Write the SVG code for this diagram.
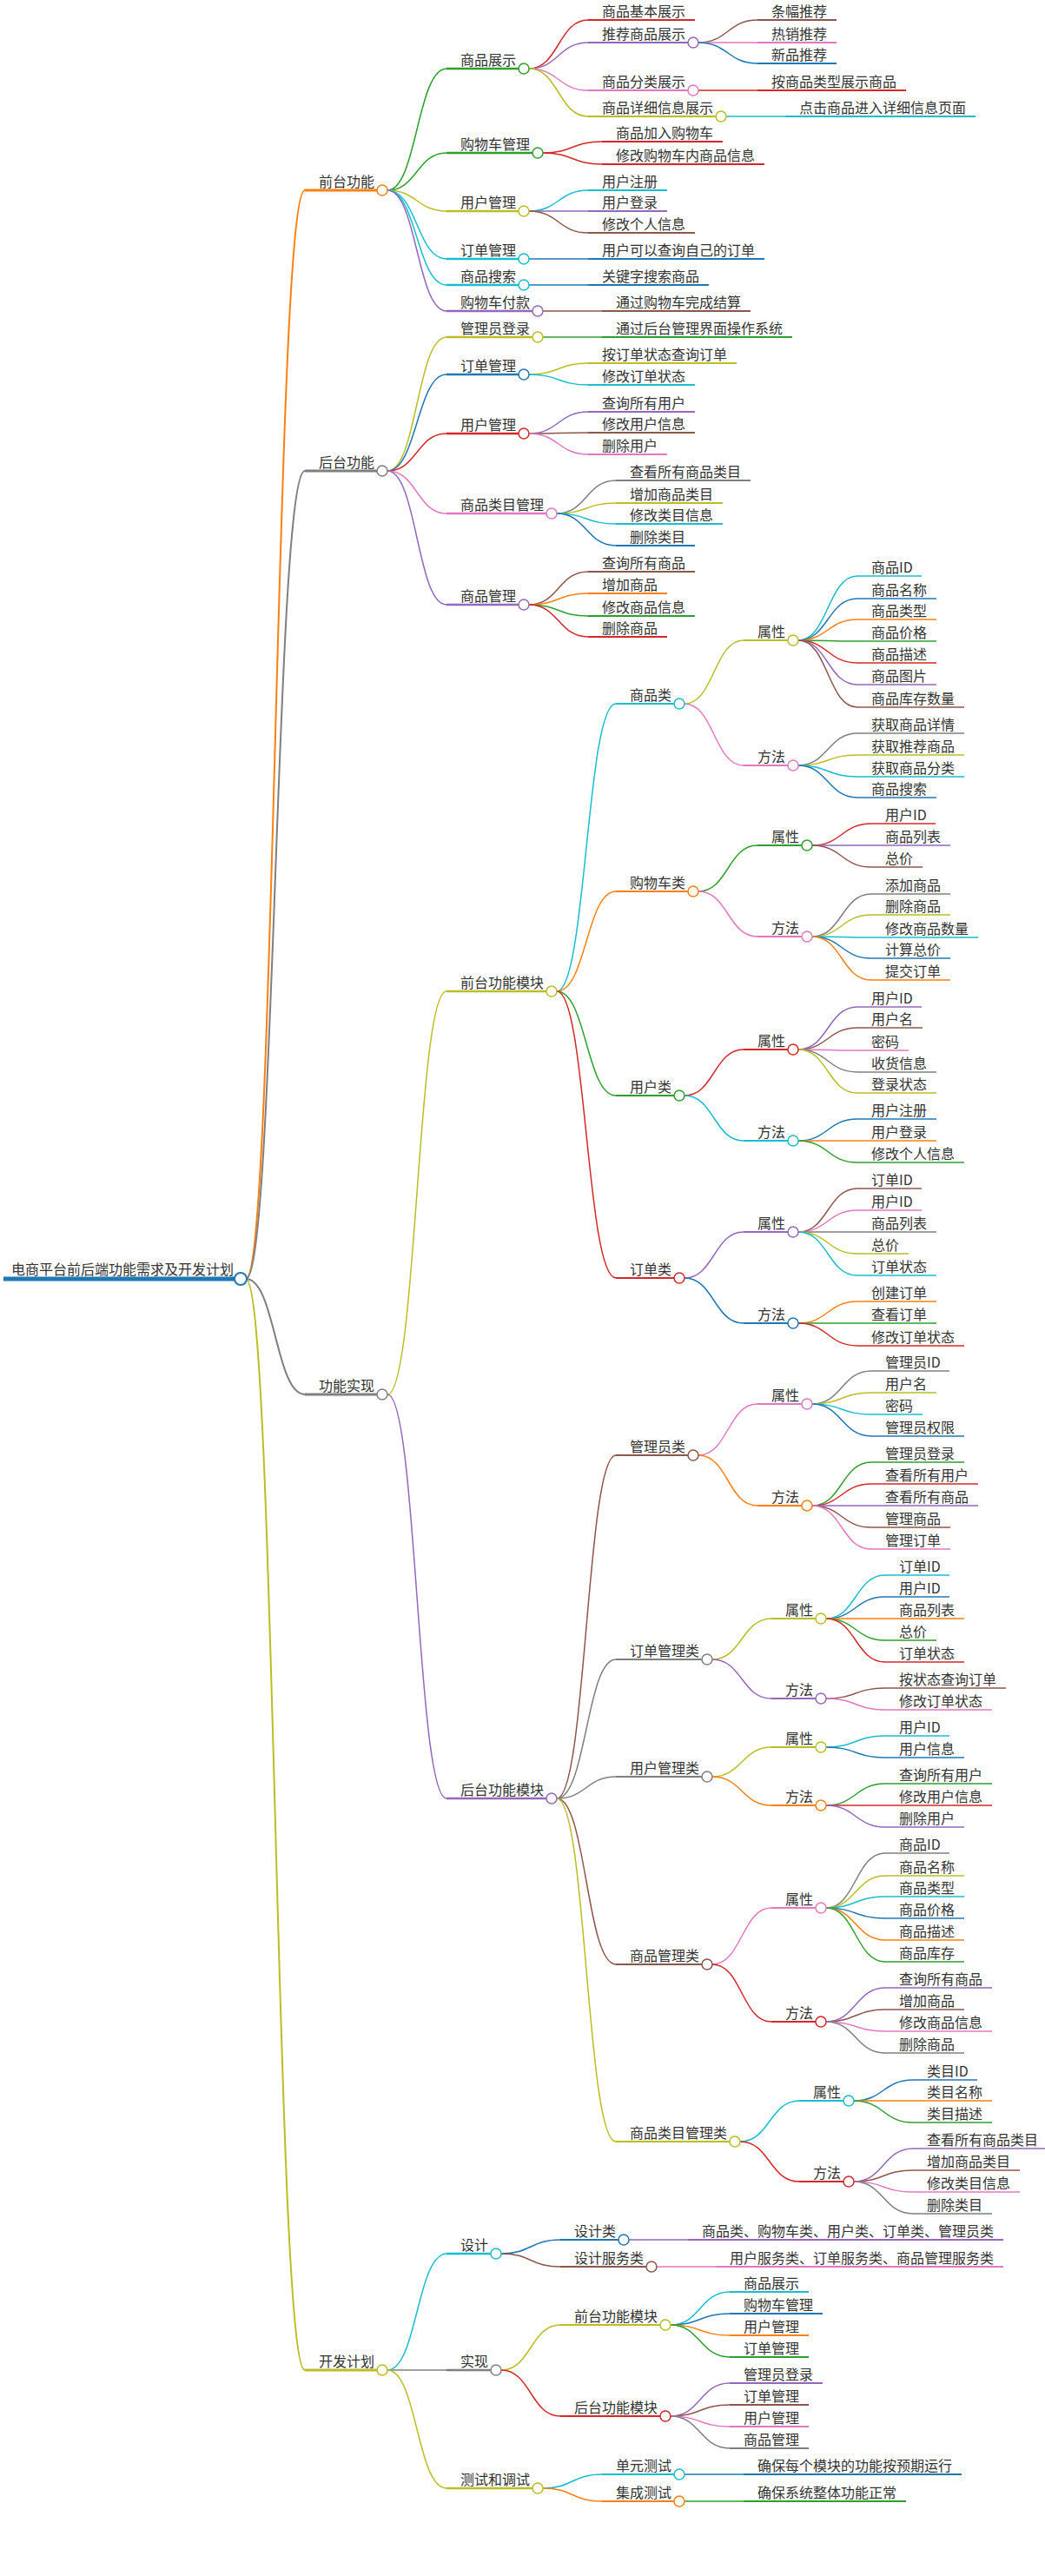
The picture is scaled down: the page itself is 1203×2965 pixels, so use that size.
<svg xmlns="http://www.w3.org/2000/svg" width="1203" height="2965" viewBox="0 0 1203 2965">
<style>
.e{fill:none;stroke-width:1.5}
.r{stroke-width:2}
.u{fill:none}
.k{fill:#fff;stroke-width:1.5}
.d0{stroke-width:5}.d1{stroke-width:3}.d2{stroke-width:2.4}.d3{stroke-width:2}.d4{stroke-width:1.8}.d5{stroke-width:1.7}
.B{stroke:#1f77b4}.O{stroke:#ff7f0e}.G{stroke:#2ca02c}.R{stroke:#d62728}.P{stroke:#9467bd}
.N{stroke:#8c564b}.K{stroke:#e377c2}.Y{stroke:#7f7f7f}.L{stroke:#bcbd22}.C{stroke:#17becf}
text{font-family:"Noto Sans CJK SC","Noto Sans",sans-serif;font-size:16px;fill:#333}
</style>
<rect width="1203" height="2965" fill="#fff"/>
<g id="connectors">
<path class="e r O" d="M283 1472C317 1472 317 219 351 219"/>
<path class="e r Y" d="M283 1472C317 1472 317 542 351 542"/>
<path class="e r Y" d="M283 1472C317 1472 317 1605 351 1605"/>
<path class="e r L" d="M283 1472C317 1472 317 2728 351 2728"/>
<path class="e G" d="M446 219C480 219 480 79 514 79"/>
<path class="e G" d="M446 219C480 219 480 176 514 176"/>
<path class="e L" d="M446 219C480 219 480 243 514 243"/>
<path class="e C" d="M446 219C480 219 480 298 514 298"/>
<path class="e C" d="M446 219C480 219 480 328 514 328"/>
<path class="e P" d="M446 219C480 219 480 358 514 358"/>
<path class="e R" d="M609 79C643 79 643 23 677 23"/>
<path class="e P" d="M609 79C643 79 643 49 677 49"/>
<path class="e K" d="M609 79C643 79 643 104 677 104"/>
<path class="e L" d="M609 79C643 79 643 134 677 134"/>
<path class="e N" d="M804 49C838 49 838 23 872 23"/>
<path class="e K" d="M804 49C838 49 838 49 872 49"/>
<path class="e B" d="M804 49C838 49 838 73 872 73"/>
<path class="e R" d="M804 104H872"/>
<path class="e C" d="M836 134H904"/>
<path class="e R" d="M625 176C659 176 659 163 693 163"/>
<path class="e R" d="M625 176C659 176 659 189 693 189"/>
<path class="e C" d="M609 243C643 243 643 219 677 219"/>
<path class="e P" d="M609 243C643 243 643 243 677 243"/>
<path class="e N" d="M609 243C643 243 643 268 677 268"/>
<path class="e B" d="M609 298H677"/>
<path class="e B" d="M609 328H677"/>
<path class="e N" d="M625 358H693"/>
<path class="e L" d="M446 542C480 542 480 388 514 388"/>
<path class="e B" d="M446 542C480 542 480 431 514 431"/>
<path class="e R" d="M446 542C480 542 480 499 514 499"/>
<path class="e K" d="M446 542C480 542 480 591 514 591"/>
<path class="e P" d="M446 542C480 542 480 696 514 696"/>
<path class="e G" d="M625 388H693"/>
<path class="e L" d="M609 431C643 431 643 418 677 418"/>
<path class="e C" d="M609 431C643 431 643 443 677 443"/>
<path class="e P" d="M609 499C643 499 643 474 677 474"/>
<path class="e N" d="M609 499C643 499 643 498 677 498"/>
<path class="e K" d="M609 499C643 499 643 523 677 523"/>
<path class="e Y" d="M641 591C675 591 675 553 709 553"/>
<path class="e L" d="M641 591C675 591 675 579 709 579"/>
<path class="e C" d="M641 591C675 591 675 603 709 603"/>
<path class="e B" d="M641 591C675 591 675 628 709 628"/>
<path class="e N" d="M609 696C643 696 643 658 677 658"/>
<path class="e O" d="M609 696C643 696 643 683 677 683"/>
<path class="e G" d="M609 696C643 696 643 709 677 709"/>
<path class="e R" d="M609 696C643 696 643 733 677 733"/>
<path class="e L" d="M446 1605C480 1605 480 1141 514 1141"/>
<path class="e P" d="M446 1605C480 1605 480 2070 514 2070"/>
<path class="e C" d="M641 1141C675 1141 675 810 709 810"/>
<path class="e O" d="M641 1141C675 1141 675 1026 709 1026"/>
<path class="e G" d="M641 1141C675 1141 675 1261 709 1261"/>
<path class="e R" d="M641 1141C675 1141 675 1471 709 1471"/>
<path class="e L" d="M788 810C822 810 822 737 856 737"/>
<path class="e K" d="M788 810C822 810 822 881 856 881"/>
<path class="e C" d="M919 737C953 737 953 663 987 663"/>
<path class="e B" d="M919 737C953 737 953 689 987 689"/>
<path class="e O" d="M919 737C953 737 953 713 987 713"/>
<path class="e G" d="M919 737C953 737 953 738 987 738"/>
<path class="e R" d="M919 737C953 737 953 763 987 763"/>
<path class="e P" d="M919 737C953 737 953 788 987 788"/>
<path class="e N" d="M919 737C953 737 953 814 987 814"/>
<path class="e Y" d="M919 881C953 881 953 844 987 844"/>
<path class="e L" d="M919 881C953 881 953 869 987 869"/>
<path class="e C" d="M919 881C953 881 953 894 987 894"/>
<path class="e B" d="M919 881C953 881 953 918 987 918"/>
<path class="e G" d="M804 1026C838 1026 838 973 872 973"/>
<path class="e K" d="M804 1026C838 1026 838 1078 872 1078"/>
<path class="e R" d="M935 973C969 973 969 948 1003 948"/>
<path class="e P" d="M935 973C969 973 969 973 1003 973"/>
<path class="e N" d="M935 973C969 973 969 998 1003 998"/>
<path class="e Y" d="M935 1078C969 1078 969 1029 1003 1029"/>
<path class="e L" d="M935 1078C969 1078 969 1053 1003 1053"/>
<path class="e C" d="M935 1078C969 1078 969 1079 1003 1079"/>
<path class="e B" d="M935 1078C969 1078 969 1103 1003 1103"/>
<path class="e O" d="M935 1078C969 1078 969 1128 1003 1128"/>
<path class="e R" d="M788 1261C822 1261 822 1208 856 1208"/>
<path class="e C" d="M788 1261C822 1261 822 1313 856 1313"/>
<path class="e P" d="M919 1208C953 1208 953 1159 987 1159"/>
<path class="e N" d="M919 1208C953 1208 953 1183 987 1183"/>
<path class="e K" d="M919 1208C953 1208 953 1209 987 1209"/>
<path class="e Y" d="M919 1208C953 1208 953 1234 987 1234"/>
<path class="e L" d="M919 1208C953 1208 953 1258 987 1258"/>
<path class="e B" d="M919 1313C953 1313 953 1288 987 1288"/>
<path class="e O" d="M919 1313C953 1313 953 1313 987 1313"/>
<path class="e G" d="M919 1313C953 1313 953 1338 987 1338"/>
<path class="e P" d="M788 1471C822 1471 822 1418 856 1418"/>
<path class="e B" d="M788 1471C822 1471 822 1523 856 1523"/>
<path class="e N" d="M919 1418C953 1418 953 1368 987 1368"/>
<path class="e K" d="M919 1418C953 1418 953 1393 987 1393"/>
<path class="e Y" d="M919 1418C953 1418 953 1418 987 1418"/>
<path class="e L" d="M919 1418C953 1418 953 1443 987 1443"/>
<path class="e C" d="M919 1418C953 1418 953 1468 987 1468"/>
<path class="e O" d="M919 1523C953 1523 953 1498 987 1498"/>
<path class="e G" d="M919 1523C953 1523 953 1523 987 1523"/>
<path class="e R" d="M919 1523C953 1523 953 1549 987 1549"/>
<path class="e N" d="M641 2070C675 2070 675 1675 709 1675"/>
<path class="e Y" d="M641 2070C675 2070 675 1910 709 1910"/>
<path class="e Y" d="M641 2070C675 2070 675 2045 709 2045"/>
<path class="e N" d="M641 2070C675 2070 675 2261 709 2261"/>
<path class="e L" d="M641 2070C675 2070 675 2465 709 2465"/>
<path class="e K" d="M804 1675C838 1675 838 1616 872 1616"/>
<path class="e O" d="M804 1675C838 1675 838 1733 872 1733"/>
<path class="e Y" d="M935 1616C969 1616 969 1578 1003 1578"/>
<path class="e L" d="M935 1616C969 1616 969 1603 1003 1603"/>
<path class="e C" d="M935 1616C969 1616 969 1628 1003 1628"/>
<path class="e B" d="M935 1616C969 1616 969 1653 1003 1653"/>
<path class="e G" d="M935 1733C969 1733 969 1683 1003 1683"/>
<path class="e R" d="M935 1733C969 1733 969 1708 1003 1708"/>
<path class="e P" d="M935 1733C969 1733 969 1733 1003 1733"/>
<path class="e N" d="M935 1733C969 1733 969 1758 1003 1758"/>
<path class="e K" d="M935 1733C969 1733 969 1783 1003 1783"/>
<path class="e L" d="M820 1910C854 1910 854 1863 888 1863"/>
<path class="e P" d="M820 1910C854 1910 854 1955 888 1955"/>
<path class="e C" d="M951 1863C985 1863 985 1813 1019 1813"/>
<path class="e B" d="M951 1863C985 1863 985 1838 1019 1838"/>
<path class="e O" d="M951 1863C985 1863 985 1863 1019 1863"/>
<path class="e G" d="M951 1863C985 1863 985 1888 1019 1888"/>
<path class="e R" d="M951 1863C985 1863 985 1913 1019 1913"/>
<path class="e N" d="M951 1955C985 1955 985 1943 1019 1943"/>
<path class="e K" d="M951 1955C985 1955 985 1968 1019 1968"/>
<path class="e L" d="M820 2045C854 2045 854 2011 888 2011"/>
<path class="e O" d="M820 2045C854 2045 854 2078 888 2078"/>
<path class="e C" d="M951 2011C985 2011 985 1998 1019 1998"/>
<path class="e B" d="M951 2011C985 2011 985 2023 1019 2023"/>
<path class="e G" d="M951 2078C985 2078 985 2053 1019 2053"/>
<path class="e R" d="M951 2078C985 2078 985 2078 1019 2078"/>
<path class="e P" d="M951 2078C985 2078 985 2103 1019 2103"/>
<path class="e K" d="M820 2261C854 2261 854 2196 888 2196"/>
<path class="e R" d="M820 2261C854 2261 854 2327 888 2327"/>
<path class="e Y" d="M951 2196C985 2196 985 2133 1019 2133"/>
<path class="e L" d="M951 2196C985 2196 985 2159 1019 2159"/>
<path class="e C" d="M951 2196C985 2196 985 2183 1019 2183"/>
<path class="e B" d="M951 2196C985 2196 985 2208 1019 2208"/>
<path class="e O" d="M951 2196C985 2196 985 2233 1019 2233"/>
<path class="e G" d="M951 2196C985 2196 985 2258 1019 2258"/>
<path class="e P" d="M951 2327C985 2327 985 2288 1019 2288"/>
<path class="e N" d="M951 2327C985 2327 985 2313 1019 2313"/>
<path class="e K" d="M951 2327C985 2327 985 2338 1019 2338"/>
<path class="e Y" d="M951 2327C985 2327 985 2363 1019 2363"/>
<path class="e C" d="M852 2465C886 2465 886 2418 920 2418"/>
<path class="e R" d="M852 2465C886 2465 886 2511 920 2511"/>
<path class="e B" d="M983 2418C1017 2418 1017 2394 1051 2394"/>
<path class="e O" d="M983 2418C1017 2418 1017 2418 1051 2418"/>
<path class="e G" d="M983 2418C1017 2418 1017 2443 1051 2443"/>
<path class="e P" d="M983 2511C1017 2511 1017 2473 1051 2473"/>
<path class="e N" d="M983 2511C1017 2511 1017 2498 1051 2498"/>
<path class="e K" d="M983 2511C1017 2511 1017 2523 1051 2523"/>
<path class="e Y" d="M983 2511C1017 2511 1017 2548 1051 2548"/>
<path class="e C" d="M446 2728C480 2728 480 2594 514 2594"/>
<path class="e Y" d="M446 2728H514"/>
<path class="e L" d="M446 2728C480 2728 480 2864 514 2864"/>
<path class="e B" d="M577 2594C611 2594 611 2578 645 2578"/>
<path class="e N" d="M577 2594C611 2594 611 2609 645 2609"/>
<path class="e P" d="M724 2578H792"/>
<path class="e K" d="M756 2609H824"/>
<path class="e L" d="M577 2728C611 2728 611 2676 645 2676"/>
<path class="e R" d="M577 2728C611 2728 611 2781 645 2781"/>
<path class="e C" d="M772 2676C806 2676 806 2638 840 2638"/>
<path class="e B" d="M772 2676C806 2676 806 2663 840 2663"/>
<path class="e O" d="M772 2676C806 2676 806 2688 840 2688"/>
<path class="e G" d="M772 2676C806 2676 806 2713 840 2713"/>
<path class="e P" d="M772 2781C806 2781 806 2743 840 2743"/>
<path class="e N" d="M772 2781C806 2781 806 2768 840 2768"/>
<path class="e K" d="M772 2781C806 2781 806 2793 840 2793"/>
<path class="e Y" d="M772 2781C806 2781 806 2818 840 2818"/>
<path class="e C" d="M625 2864C659 2864 659 2848 693 2848"/>
<path class="e O" d="M625 2864C659 2864 659 2879 693 2879"/>
<path class="e B" d="M788 2848H856"/>
<path class="e G" d="M788 2879H856"/>
</g>
<g id="root"><path class="u d0 B" d="M4 1472H270"/><circle class="k B" cx="277" cy="1472" r="7" style="stroke-width:2"/><text x="13" y="1467">电商平台前后端功能需求及开发计划</text></g>
<g id="n1"><path class="u d1 O" d="M351 219H434"/><circle class="k O" cx="440" cy="219" r="6"/><text x="367" y="215">前台功能</text></g>
<g id="n1-1"><path class="u d2 G" d="M514 79H597"/><circle class="k G" cx="603" cy="79" r="6"/><text x="530" y="75">商品展示</text></g>
<g id="n1-1-1"><path class="u d3 R" d="M677 23H800"/><text x="693" y="19">商品基本展示</text></g>
<g id="n1-1-2"><path class="u d3 P" d="M677 49H792"/><circle class="k P" cx="798" cy="49" r="6"/><text x="693" y="45">推荐商品展示</text></g>
<g id="n1-1-2-1"><path class="u d4 N" d="M872 23H963"/><text x="888" y="19">条幅推荐</text></g>
<g id="n1-1-2-2"><path class="u d4 K" d="M872 49H963"/><text x="888" y="45">热销推荐</text></g>
<g id="n1-1-2-3"><path class="u d4 B" d="M872 73H963"/><text x="888" y="69">新品推荐</text></g>
<g id="n1-1-3"><path class="u d3 K" d="M677 104H792"/><circle class="k K" cx="798" cy="104" r="6"/><text x="693" y="100">商品分类展示</text></g>
<g id="n1-1-3-1"><path class="u d4 R" d="M872 104H1043"/><text x="888" y="100">按商品类型展示商品</text></g>
<g id="n1-1-4"><path class="u d3 L" d="M677 134H824"/><circle class="k L" cx="830" cy="134" r="6"/><text x="693" y="130">商品详细信息展示</text></g>
<g id="n1-1-4-1"><path class="u d4 C" d="M904 134H1123"/><text x="920" y="130">点击商品进入详细信息页面</text></g>
<g id="n1-2"><path class="u d2 G" d="M514 176H613"/><circle class="k G" cx="619" cy="176" r="6"/><text x="530" y="172">购物车管理</text></g>
<g id="n1-2-1"><path class="u d3 R" d="M693 163H832"/><text x="709" y="159">商品加入购物车</text></g>
<g id="n1-2-2"><path class="u d3 R" d="M693 189H880"/><text x="709" y="185">修改购物车内商品信息</text></g>
<g id="n1-3"><path class="u d2 L" d="M514 243H597"/><circle class="k L" cx="603" cy="243" r="6"/><text x="530" y="239">用户管理</text></g>
<g id="n1-3-1"><path class="u d3 C" d="M677 219H768"/><text x="693" y="215">用户注册</text></g>
<g id="n1-3-2"><path class="u d3 P" d="M677 243H768"/><text x="693" y="239">用户登录</text></g>
<g id="n1-3-3"><path class="u d3 N" d="M677 268H800"/><text x="693" y="264">修改个人信息</text></g>
<g id="n1-4"><path class="u d2 C" d="M514 298H597"/><circle class="k C" cx="603" cy="298" r="6"/><text x="530" y="294">订单管理</text></g>
<g id="n1-4-1"><path class="u d3 B" d="M677 298H880"/><text x="693" y="294">用户可以查询自己的订单</text></g>
<g id="n1-5"><path class="u d2 C" d="M514 328H597"/><circle class="k C" cx="603" cy="328" r="6"/><text x="530" y="324">商品搜索</text></g>
<g id="n1-5-1"><path class="u d3 B" d="M677 328H816"/><text x="693" y="324">关键字搜索商品</text></g>
<g id="n1-6"><path class="u d2 P" d="M514 358H613"/><circle class="k P" cx="619" cy="358" r="6"/><text x="530" y="354">购物车付款</text></g>
<g id="n1-6-1"><path class="u d3 N" d="M693 358H864"/><text x="709" y="354">通过购物车完成结算</text></g>
<g id="n2"><path class="u d1 Y" d="M351 542H434"/><circle class="k Y" cx="440" cy="542" r="6"/><text x="367" y="538">后台功能</text></g>
<g id="n2-1"><path class="u d2 L" d="M514 388H613"/><circle class="k L" cx="619" cy="388" r="6"/><text x="530" y="384">管理员登录</text></g>
<g id="n2-1-1"><path class="u d3 G" d="M693 388H912"/><text x="709" y="384">通过后台管理界面操作系统</text></g>
<g id="n2-2"><path class="u d2 B" d="M514 431H597"/><circle class="k B" cx="603" cy="431" r="6"/><text x="530" y="427">订单管理</text></g>
<g id="n2-2-1"><path class="u d3 L" d="M677 418H848"/><text x="693" y="414">按订单状态查询订单</text></g>
<g id="n2-2-2"><path class="u d3 C" d="M677 443H800"/><text x="693" y="439">修改订单状态</text></g>
<g id="n2-3"><path class="u d2 R" d="M514 499H597"/><circle class="k R" cx="603" cy="499" r="6"/><text x="530" y="495">用户管理</text></g>
<g id="n2-3-1"><path class="u d3 P" d="M677 474H800"/><text x="693" y="470">查询所有用户</text></g>
<g id="n2-3-2"><path class="u d3 N" d="M677 498H800"/><text x="693" y="494">修改用户信息</text></g>
<g id="n2-3-3"><path class="u d3 K" d="M677 523H768"/><text x="693" y="519">删除用户</text></g>
<g id="n2-4"><path class="u d2 K" d="M514 591H629"/><circle class="k K" cx="635" cy="591" r="6"/><text x="530" y="587">商品类目管理</text></g>
<g id="n2-4-1"><path class="u d3 Y" d="M709 553H864"/><text x="725" y="549">查看所有商品类目</text></g>
<g id="n2-4-2"><path class="u d3 L" d="M709 579H832"/><text x="725" y="575">增加商品类目</text></g>
<g id="n2-4-3"><path class="u d3 C" d="M709 603H832"/><text x="725" y="599">修改类目信息</text></g>
<g id="n2-4-4"><path class="u d3 B" d="M709 628H800"/><text x="725" y="624">删除类目</text></g>
<g id="n2-5"><path class="u d2 P" d="M514 696H597"/><circle class="k P" cx="603" cy="696" r="6"/><text x="530" y="692">商品管理</text></g>
<g id="n2-5-1"><path class="u d3 N" d="M677 658H800"/><text x="693" y="654">查询所有商品</text></g>
<g id="n2-5-2"><path class="u d3 O" d="M677 683H768"/><text x="693" y="679">增加商品</text></g>
<g id="n2-5-3"><path class="u d3 G" d="M677 709H800"/><text x="693" y="705">修改商品信息</text></g>
<g id="n2-5-4"><path class="u d3 R" d="M677 733H768"/><text x="693" y="729">删除商品</text></g>
<g id="n3"><path class="u d1 Y" d="M351 1605H434"/><circle class="k Y" cx="440" cy="1605" r="6"/><text x="367" y="1601">功能实现</text></g>
<g id="n3-1"><path class="u d2 L" d="M514 1141H629"/><circle class="k L" cx="635" cy="1141" r="6"/><text x="530" y="1137">前台功能模块</text></g>
<g id="n3-1-1"><path class="u d3 C" d="M709 810H776"/><circle class="k C" cx="782" cy="810" r="6"/><text x="725" y="806">商品类</text></g>
<g id="n3-1-1-1"><path class="u d4 L" d="M856 737H907"/><circle class="k L" cx="913" cy="737" r="6"/><text x="872" y="733">属性</text></g>
<g id="n3-1-1-1-1"><path class="u d5 C" d="M987 663H1061"/><text x="1003" y="659">商品ID</text></g>
<g id="n3-1-1-1-2"><path class="u d5 B" d="M987 689H1078"/><text x="1003" y="685">商品名称</text></g>
<g id="n3-1-1-1-3"><path class="u d5 O" d="M987 713H1078"/><text x="1003" y="709">商品类型</text></g>
<g id="n3-1-1-1-4"><path class="u d5 G" d="M987 738H1078"/><text x="1003" y="734">商品价格</text></g>
<g id="n3-1-1-1-5"><path class="u d5 R" d="M987 763H1078"/><text x="1003" y="759">商品描述</text></g>
<g id="n3-1-1-1-6"><path class="u d5 P" d="M987 788H1078"/><text x="1003" y="784">商品图片</text></g>
<g id="n3-1-1-1-7"><path class="u d5 N" d="M987 814H1110"/><text x="1003" y="810">商品库存数量</text></g>
<g id="n3-1-1-2"><path class="u d4 K" d="M856 881H907"/><circle class="k K" cx="913" cy="881" r="6"/><text x="872" y="877">方法</text></g>
<g id="n3-1-1-2-1"><path class="u d5 Y" d="M987 844H1110"/><text x="1003" y="840">获取商品详情</text></g>
<g id="n3-1-1-2-2"><path class="u d5 L" d="M987 869H1110"/><text x="1003" y="865">获取推荐商品</text></g>
<g id="n3-1-1-2-3"><path class="u d5 C" d="M987 894H1110"/><text x="1003" y="890">获取商品分类</text></g>
<g id="n3-1-1-2-4"><path class="u d5 B" d="M987 918H1078"/><text x="1003" y="914">商品搜索</text></g>
<g id="n3-1-2"><path class="u d3 O" d="M709 1026H792"/><circle class="k O" cx="798" cy="1026" r="6"/><text x="725" y="1022">购物车类</text></g>
<g id="n3-1-2-1"><path class="u d4 G" d="M872 973H923"/><circle class="k G" cx="929" cy="973" r="6"/><text x="888" y="969">属性</text></g>
<g id="n3-1-2-1-1"><path class="u d5 R" d="M1003 948H1077"/><text x="1019" y="944">用户ID</text></g>
<g id="n3-1-2-1-2"><path class="u d5 P" d="M1003 973H1094"/><text x="1019" y="969">商品列表</text></g>
<g id="n3-1-2-1-3"><path class="u d5 N" d="M1003 998H1062"/><text x="1019" y="994">总价</text></g>
<g id="n3-1-2-2"><path class="u d4 K" d="M872 1078H923"/><circle class="k K" cx="929" cy="1078" r="6"/><text x="888" y="1074">方法</text></g>
<g id="n3-1-2-2-1"><path class="u d5 Y" d="M1003 1029H1094"/><text x="1019" y="1025">添加商品</text></g>
<g id="n3-1-2-2-2"><path class="u d5 L" d="M1003 1053H1094"/><text x="1019" y="1049">删除商品</text></g>
<g id="n3-1-2-2-3"><path class="u d5 C" d="M1003 1079H1126"/><text x="1019" y="1075">修改商品数量</text></g>
<g id="n3-1-2-2-4"><path class="u d5 B" d="M1003 1103H1094"/><text x="1019" y="1099">计算总价</text></g>
<g id="n3-1-2-2-5"><path class="u d5 O" d="M1003 1128H1094"/><text x="1019" y="1124">提交订单</text></g>
<g id="n3-1-3"><path class="u d3 G" d="M709 1261H776"/><circle class="k G" cx="782" cy="1261" r="6"/><text x="725" y="1257">用户类</text></g>
<g id="n3-1-3-1"><path class="u d4 R" d="M856 1208H907"/><circle class="k R" cx="913" cy="1208" r="6"/><text x="872" y="1204">属性</text></g>
<g id="n3-1-3-1-1"><path class="u d5 P" d="M987 1159H1061"/><text x="1003" y="1155">用户ID</text></g>
<g id="n3-1-3-1-2"><path class="u d5 N" d="M987 1183H1062"/><text x="1003" y="1179">用户名</text></g>
<g id="n3-1-3-1-3"><path class="u d5 K" d="M987 1209H1046"/><text x="1003" y="1205">密码</text></g>
<g id="n3-1-3-1-4"><path class="u d5 Y" d="M987 1234H1078"/><text x="1003" y="1230">收货信息</text></g>
<g id="n3-1-3-1-5"><path class="u d5 L" d="M987 1258H1078"/><text x="1003" y="1254">登录状态</text></g>
<g id="n3-1-3-2"><path class="u d4 C" d="M856 1313H907"/><circle class="k C" cx="913" cy="1313" r="6"/><text x="872" y="1309">方法</text></g>
<g id="n3-1-3-2-1"><path class="u d5 B" d="M987 1288H1078"/><text x="1003" y="1284">用户注册</text></g>
<g id="n3-1-3-2-2"><path class="u d5 O" d="M987 1313H1078"/><text x="1003" y="1309">用户登录</text></g>
<g id="n3-1-3-2-3"><path class="u d5 G" d="M987 1338H1110"/><text x="1003" y="1334">修改个人信息</text></g>
<g id="n3-1-4"><path class="u d3 R" d="M709 1471H776"/><circle class="k R" cx="782" cy="1471" r="6"/><text x="725" y="1467">订单类</text></g>
<g id="n3-1-4-1"><path class="u d4 P" d="M856 1418H907"/><circle class="k P" cx="913" cy="1418" r="6"/><text x="872" y="1414">属性</text></g>
<g id="n3-1-4-1-1"><path class="u d5 N" d="M987 1368H1061"/><text x="1003" y="1364">订单ID</text></g>
<g id="n3-1-4-1-2"><path class="u d5 K" d="M987 1393H1061"/><text x="1003" y="1389">用户ID</text></g>
<g id="n3-1-4-1-3"><path class="u d5 Y" d="M987 1418H1078"/><text x="1003" y="1414">商品列表</text></g>
<g id="n3-1-4-1-4"><path class="u d5 L" d="M987 1443H1046"/><text x="1003" y="1439">总价</text></g>
<g id="n3-1-4-1-5"><path class="u d5 C" d="M987 1468H1078"/><text x="1003" y="1464">订单状态</text></g>
<g id="n3-1-4-2"><path class="u d4 B" d="M856 1523H907"/><circle class="k B" cx="913" cy="1523" r="6"/><text x="872" y="1519">方法</text></g>
<g id="n3-1-4-2-1"><path class="u d5 O" d="M987 1498H1078"/><text x="1003" y="1494">创建订单</text></g>
<g id="n3-1-4-2-2"><path class="u d5 G" d="M987 1523H1078"/><text x="1003" y="1519">查看订单</text></g>
<g id="n3-1-4-2-3"><path class="u d5 R" d="M987 1549H1110"/><text x="1003" y="1545">修改订单状态</text></g>
<g id="n3-2"><path class="u d2 P" d="M514 2070H629"/><circle class="k P" cx="635" cy="2070" r="6"/><text x="530" y="2066">后台功能模块</text></g>
<g id="n3-2-1"><path class="u d3 N" d="M709 1675H792"/><circle class="k N" cx="798" cy="1675" r="6"/><text x="725" y="1671">管理员类</text></g>
<g id="n3-2-1-1"><path class="u d4 K" d="M872 1616H923"/><circle class="k K" cx="929" cy="1616" r="6"/><text x="888" y="1612">属性</text></g>
<g id="n3-2-1-1-1"><path class="u d5 Y" d="M1003 1578H1093"/><text x="1019" y="1574">管理员ID</text></g>
<g id="n3-2-1-1-2"><path class="u d5 L" d="M1003 1603H1078"/><text x="1019" y="1599">用户名</text></g>
<g id="n3-2-1-1-3"><path class="u d5 C" d="M1003 1628H1062"/><text x="1019" y="1624">密码</text></g>
<g id="n3-2-1-1-4"><path class="u d5 B" d="M1003 1653H1110"/><text x="1019" y="1649">管理员权限</text></g>
<g id="n3-2-1-2"><path class="u d4 O" d="M872 1733H923"/><circle class="k O" cx="929" cy="1733" r="6"/><text x="888" y="1729">方法</text></g>
<g id="n3-2-1-2-1"><path class="u d5 G" d="M1003 1683H1110"/><text x="1019" y="1679">管理员登录</text></g>
<g id="n3-2-1-2-2"><path class="u d5 R" d="M1003 1708H1126"/><text x="1019" y="1704">查看所有用户</text></g>
<g id="n3-2-1-2-3"><path class="u d5 P" d="M1003 1733H1126"/><text x="1019" y="1729">查看所有商品</text></g>
<g id="n3-2-1-2-4"><path class="u d5 N" d="M1003 1758H1094"/><text x="1019" y="1754">管理商品</text></g>
<g id="n3-2-1-2-5"><path class="u d5 K" d="M1003 1783H1094"/><text x="1019" y="1779">管理订单</text></g>
<g id="n3-2-2"><path class="u d3 Y" d="M709 1910H808"/><circle class="k Y" cx="814" cy="1910" r="6"/><text x="725" y="1906">订单管理类</text></g>
<g id="n3-2-2-1"><path class="u d4 L" d="M888 1863H939"/><circle class="k L" cx="945" cy="1863" r="6"/><text x="904" y="1859">属性</text></g>
<g id="n3-2-2-1-1"><path class="u d5 C" d="M1019 1813H1093"/><text x="1035" y="1809">订单ID</text></g>
<g id="n3-2-2-1-2"><path class="u d5 B" d="M1019 1838H1093"/><text x="1035" y="1834">用户ID</text></g>
<g id="n3-2-2-1-3"><path class="u d5 O" d="M1019 1863H1110"/><text x="1035" y="1859">商品列表</text></g>
<g id="n3-2-2-1-4"><path class="u d5 G" d="M1019 1888H1078"/><text x="1035" y="1884">总价</text></g>
<g id="n3-2-2-1-5"><path class="u d5 R" d="M1019 1913H1110"/><text x="1035" y="1909">订单状态</text></g>
<g id="n3-2-2-2"><path class="u d4 P" d="M888 1955H939"/><circle class="k P" cx="945" cy="1955" r="6"/><text x="904" y="1951">方法</text></g>
<g id="n3-2-2-2-1"><path class="u d5 N" d="M1019 1943H1158"/><text x="1035" y="1939">按状态查询订单</text></g>
<g id="n3-2-2-2-2"><path class="u d5 K" d="M1019 1968H1142"/><text x="1035" y="1964">修改订单状态</text></g>
<g id="n3-2-3"><path class="u d3 Y" d="M709 2045H808"/><circle class="k Y" cx="814" cy="2045" r="6"/><text x="725" y="2041">用户管理类</text></g>
<g id="n3-2-3-1"><path class="u d4 L" d="M888 2011H939"/><circle class="k L" cx="945" cy="2011" r="6"/><text x="904" y="2007">属性</text></g>
<g id="n3-2-3-1-1"><path class="u d5 C" d="M1019 1998H1093"/><text x="1035" y="1994">用户ID</text></g>
<g id="n3-2-3-1-2"><path class="u d5 B" d="M1019 2023H1110"/><text x="1035" y="2019">用户信息</text></g>
<g id="n3-2-3-2"><path class="u d4 O" d="M888 2078H939"/><circle class="k O" cx="945" cy="2078" r="6"/><text x="904" y="2074">方法</text></g>
<g id="n3-2-3-2-1"><path class="u d5 G" d="M1019 2053H1142"/><text x="1035" y="2049">查询所有用户</text></g>
<g id="n3-2-3-2-2"><path class="u d5 R" d="M1019 2078H1142"/><text x="1035" y="2074">修改用户信息</text></g>
<g id="n3-2-3-2-3"><path class="u d5 P" d="M1019 2103H1110"/><text x="1035" y="2099">删除用户</text></g>
<g id="n3-2-4"><path class="u d3 N" d="M709 2261H808"/><circle class="k N" cx="814" cy="2261" r="6"/><text x="725" y="2257">商品管理类</text></g>
<g id="n3-2-4-1"><path class="u d4 K" d="M888 2196H939"/><circle class="k K" cx="945" cy="2196" r="6"/><text x="904" y="2192">属性</text></g>
<g id="n3-2-4-1-1"><path class="u d5 Y" d="M1019 2133H1093"/><text x="1035" y="2129">商品ID</text></g>
<g id="n3-2-4-1-2"><path class="u d5 L" d="M1019 2159H1110"/><text x="1035" y="2155">商品名称</text></g>
<g id="n3-2-4-1-3"><path class="u d5 C" d="M1019 2183H1110"/><text x="1035" y="2179">商品类型</text></g>
<g id="n3-2-4-1-4"><path class="u d5 B" d="M1019 2208H1110"/><text x="1035" y="2204">商品价格</text></g>
<g id="n3-2-4-1-5"><path class="u d5 O" d="M1019 2233H1110"/><text x="1035" y="2229">商品描述</text></g>
<g id="n3-2-4-1-6"><path class="u d5 G" d="M1019 2258H1110"/><text x="1035" y="2254">商品库存</text></g>
<g id="n3-2-4-2"><path class="u d4 R" d="M888 2327H939"/><circle class="k R" cx="945" cy="2327" r="6"/><text x="904" y="2323">方法</text></g>
<g id="n3-2-4-2-1"><path class="u d5 P" d="M1019 2288H1142"/><text x="1035" y="2284">查询所有商品</text></g>
<g id="n3-2-4-2-2"><path class="u d5 N" d="M1019 2313H1110"/><text x="1035" y="2309">增加商品</text></g>
<g id="n3-2-4-2-3"><path class="u d5 K" d="M1019 2338H1142"/><text x="1035" y="2334">修改商品信息</text></g>
<g id="n3-2-4-2-4"><path class="u d5 Y" d="M1019 2363H1110"/><text x="1035" y="2359">删除商品</text></g>
<g id="n3-2-5"><path class="u d3 L" d="M709 2465H840"/><circle class="k L" cx="846" cy="2465" r="6"/><text x="725" y="2461">商品类目管理类</text></g>
<g id="n3-2-5-1"><path class="u d4 C" d="M920 2418H971"/><circle class="k C" cx="977" cy="2418" r="6"/><text x="936" y="2414">属性</text></g>
<g id="n3-2-5-1-1"><path class="u d5 B" d="M1051 2394H1125"/><text x="1067" y="2390">类目ID</text></g>
<g id="n3-2-5-1-2"><path class="u d5 O" d="M1051 2418H1142"/><text x="1067" y="2414">类目名称</text></g>
<g id="n3-2-5-1-3"><path class="u d5 G" d="M1051 2443H1142"/><text x="1067" y="2439">类目描述</text></g>
<g id="n3-2-5-2"><path class="u d4 R" d="M920 2511H971"/><circle class="k R" cx="977" cy="2511" r="6"/><text x="936" y="2507">方法</text></g>
<g id="n3-2-5-2-1"><path class="u d5 P" d="M1051 2473H1203"/><text x="1067" y="2469">查看所有商品类目</text></g>
<g id="n3-2-5-2-2"><path class="u d5 N" d="M1051 2498H1174"/><text x="1067" y="2494">增加商品类目</text></g>
<g id="n3-2-5-2-3"><path class="u d5 K" d="M1051 2523H1174"/><text x="1067" y="2519">修改类目信息</text></g>
<g id="n3-2-5-2-4"><path class="u d5 Y" d="M1051 2548H1142"/><text x="1067" y="2544">删除类目</text></g>
<g id="n4"><path class="u d1 L" d="M351 2728H434"/><circle class="k L" cx="440" cy="2728" r="6"/><text x="367" y="2724">开发计划</text></g>
<g id="n4-1"><path class="u d2 C" d="M514 2594H565"/><circle class="k C" cx="571" cy="2594" r="6"/><text x="530" y="2590">设计</text></g>
<g id="n4-1-1"><path class="u d3 B" d="M645 2578H712"/><circle class="k B" cx="718" cy="2578" r="6"/><text x="661" y="2574">设计类</text></g>
<g id="n4-1-1-1"><path class="u d4 P" d="M792 2578H1155"/><text x="808" y="2574">商品类、购物车类、用户类、订单类、管理员类</text></g>
<g id="n4-1-2"><path class="u d3 N" d="M645 2609H744"/><circle class="k N" cx="750" cy="2609" r="6"/><text x="661" y="2605">设计服务类</text></g>
<g id="n4-1-2-1"><path class="u d4 K" d="M824 2609H1155"/><text x="840" y="2605">用户服务类、订单服务类、商品管理服务类</text></g>
<g id="n4-2"><path class="u d2 Y" d="M514 2728H565"/><circle class="k Y" cx="571" cy="2728" r="6"/><text x="530" y="2724">实现</text></g>
<g id="n4-2-1"><path class="u d3 L" d="M645 2676H760"/><circle class="k L" cx="766" cy="2676" r="6"/><text x="661" y="2672">前台功能模块</text></g>
<g id="n4-2-1-1"><path class="u d4 C" d="M840 2638H931"/><text x="856" y="2634">商品展示</text></g>
<g id="n4-2-1-2"><path class="u d4 B" d="M840 2663H947"/><text x="856" y="2659">购物车管理</text></g>
<g id="n4-2-1-3"><path class="u d4 O" d="M840 2688H931"/><text x="856" y="2684">用户管理</text></g>
<g id="n4-2-1-4"><path class="u d4 G" d="M840 2713H931"/><text x="856" y="2709">订单管理</text></g>
<g id="n4-2-2"><path class="u d3 R" d="M645 2781H760"/><circle class="k R" cx="766" cy="2781" r="6"/><text x="661" y="2777">后台功能模块</text></g>
<g id="n4-2-2-1"><path class="u d4 P" d="M840 2743H947"/><text x="856" y="2739">管理员登录</text></g>
<g id="n4-2-2-2"><path class="u d4 N" d="M840 2768H931"/><text x="856" y="2764">订单管理</text></g>
<g id="n4-2-2-3"><path class="u d4 K" d="M840 2793H931"/><text x="856" y="2789">用户管理</text></g>
<g id="n4-2-2-4"><path class="u d4 Y" d="M840 2818H931"/><text x="856" y="2814">商品管理</text></g>
<g id="n4-3"><path class="u d2 L" d="M514 2864H613"/><circle class="k L" cx="619" cy="2864" r="6"/><text x="530" y="2860">测试和调试</text></g>
<g id="n4-3-1"><path class="u d3 C" d="M693 2848H776"/><circle class="k C" cx="782" cy="2848" r="6"/><text x="709" y="2844">单元测试</text></g>
<g id="n4-3-1-1"><path class="u d4 B" d="M856 2848H1107"/><text x="872" y="2844">确保每个模块的功能按预期运行</text></g>
<g id="n4-3-2"><path class="u d3 O" d="M693 2879H776"/><circle class="k O" cx="782" cy="2879" r="6"/><text x="709" y="2875">集成测试</text></g>
<g id="n4-3-2-1"><path class="u d4 G" d="M856 2879H1043"/><text x="872" y="2875">确保系统整体功能正常</text></g>
</svg>
